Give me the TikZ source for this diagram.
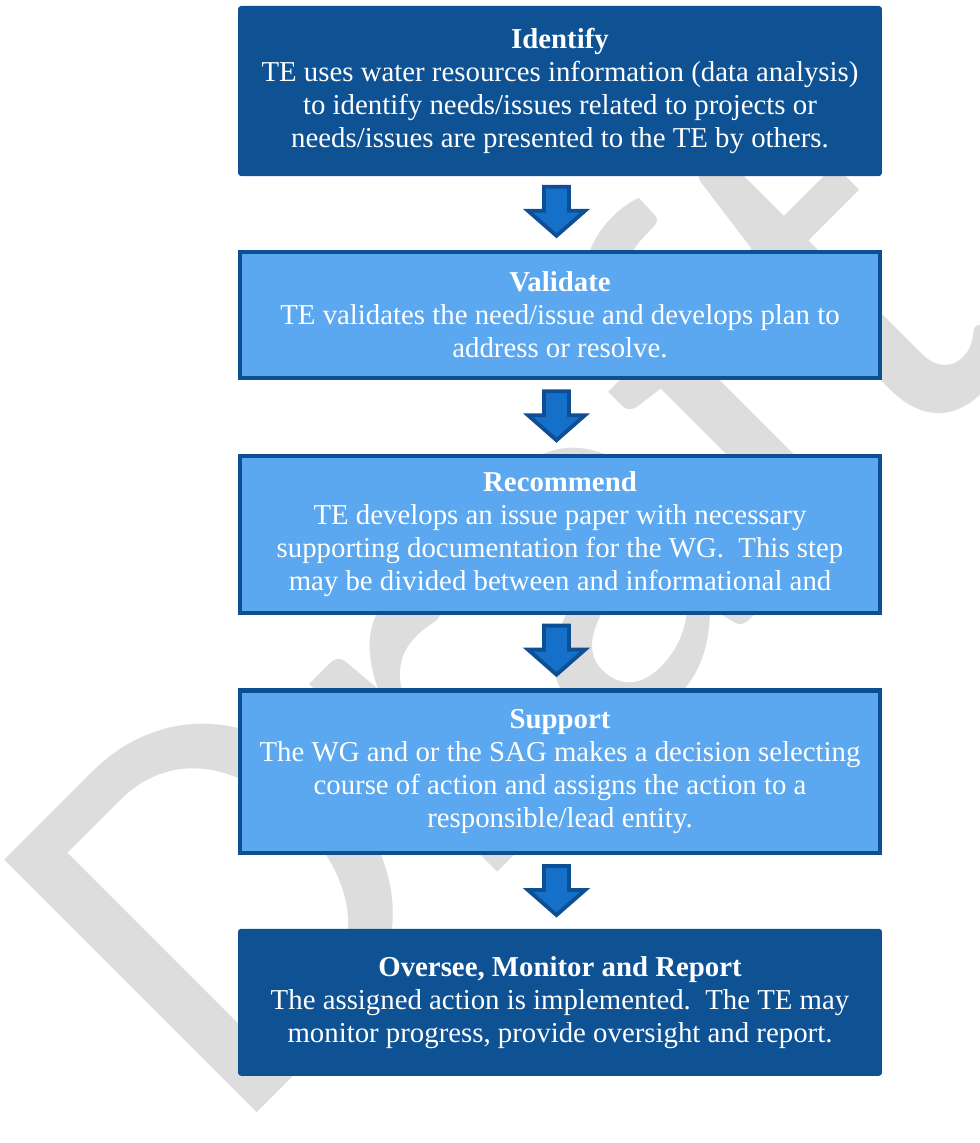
\documentclass[tikz,border=0pt]{standalone}
\usepackage{fontspec}
\setmainfont{Liberation Serif}
\newfontfamily\wmfont{Carlito}
\usetikzlibrary{positioning, calc}
\definecolor{darkblue}{RGB}{14,82,148}
\definecolor{lightblue}{RGB}{91,168,240}
\definecolor{edgeblue}{RGB}{14,79,148}
\definecolor{arrowblue}{RGB}{20,112,200}
\definecolor{wmgray}{RGB}{221,221,221}
\tikzset{%
  box/.style={rectangle, text=white, align=center, minimum width=12.8cm,
    inner sep=0pt, font=\fontsize{16.4}{18.8}\selectfont},
  darkbox/.style={box, fill=darkblue, draw=edgeblue, line width=0.6pt,
    rounded corners=1.5pt, minimum width=12.86cm},
  lightbox/.style={box, fill=lightblue, draw=edgeblue, line width=2.4pt},
  blockarrow/.style={fill=arrowblue, draw=edgeblue, line width=2.2pt,
    line join=miter},
  wmark/.style={font=\wmfont\fontsize{317}{317}\selectfont, text=wmgray,
    inner sep=0pt}
}
\begin{document}
\begin{tikzpicture}[x=0.02cm, y=-0.02cm, node distance=1.47cm]
\useasboundingbox (0,0) rectangle (980,1143);

% watermark behind everything
\node[wmark, rotate=45] (wm) at (497,606) {Draft};

\node[darkbox, minimum height=3.38cm] (idf) at (560,91)
  {\textbf{Identify}\\TE uses water resources information (data analysis)\\
   to identify needs/issues related to projects or\\
   needs/issues are presented to the TE by others.};
\node[lightbox, minimum height=2.535cm, below=of idf] (val)
  {\textbf{Validate}\\TE validates the need/issue and develops plan to\\
   address or resolve.};
\node[lightbox, minimum height=3.135cm, below=of val] (rec)
  {\textbf{Recommend}\\TE develops an issue paper with necessary\\
   supporting documentation for the WG.\ \ This step\\
   may be divided between and informational and};
\node[lightbox, minimum height=3.255cm, below=of rec] (sup)
  {\textbf{Support}\\The WG and or the SAG makes a decision selecting\\
   course of action and assigns the action to a\\
   responsible/lead entity.};
\node[darkbox, minimum height=2.92cm, below=of sup] (ovr)
  {\textbf{Oversee, Monitor and Report}\\
   The assigned action is implemented.\ \ The TE may\\
   monitor progress, provide oversight and report.};

% block arrows between the steps
\foreach \a/\b in {idf/val, val/rec, rec/sup, sup/ovr}
  \draw[blockarrow] ($(\a.south)!0.5!(\b.north)+(-3.5,-1)$)
    ++(-12.5,-25) -- ++(25,0) -- ++(0,24) -- ++(16,0) -- ++(-28.5,25)
    -- ++(-28.5,-25) -- ++(16,0) -- cycle;
\end{tikzpicture}
\end{document}
